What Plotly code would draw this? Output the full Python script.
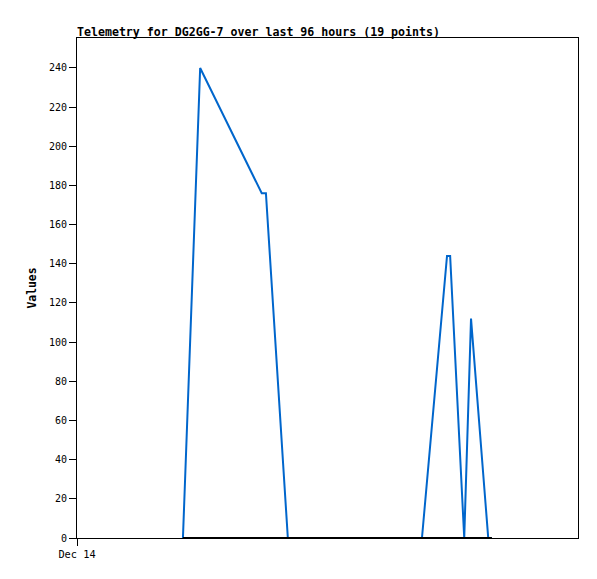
import plotly.graph_objects as go
from datetime import datetime, timedelta

# Data (hours after Dec 14 00:00, value)
hours = [20.3, 23.6, 35.4, 36.2, 40.4, 44.0, 48.5, 52.0, 56.0, 59.5, 62.5, 64.5,
         66.1, 70.9, 71.5, 74.2, 75.5, 78.8, 79.5]
values = [0, 240, 176, 176, 0, 0, 0, 0, 0, 0, 0, 0,
          0, 144, 144, 0, 112, 0, 0]
zero_series = [0] * len(hours)

start = datetime(2023, 12, 14, 0, 0)
end = start + timedelta(hours=96)
times = [start + timedelta(hours=h) for h in hours]

y_ticks = list(range(0, 241, 20))
x_tick_vals = [start]
x_tick_text = ["Dec 14"]

title_text = "Telemetry for DG2GG-7 over last 96 hours (19 points)"
y_title = "Values"

fig = go.Figure()
fig.add_trace(go.Scatter(x=times, y=values, mode="lines",
                         line=dict(color="#0066cc", width=2), showlegend=False))
fig.add_trace(go.Scatter(x=times, y=zero_series, mode="lines",
                         line=dict(color="#000000", width=2), showlegend=False))

W, H = 589, 571  # page body has an 8px margin
mono = "DejaVu Sans Mono"
fig.update_layout(
    width=W, height=H,
    margin=dict(l=69, r=19, t=30, b=41),
    paper_bgcolor="white", plot_bgcolor="white",
    title=dict(text="<b>" + title_text + "</b>", x=69/W, xanchor="left",
               xref="container", yref="container", y=1 - 24/H, yanchor="middle",
               font=dict(family=mono, size=11.6, color="black")),
    font=dict(family=mono, size=10, color="black"),
)
fig.update_xaxes(range=[start, end], tickvals=x_tick_vals, ticktext=x_tick_text,
                 showgrid=False, zeroline=False, showline=True, linecolor="black",
                 linewidth=1, mirror=True, ticks="outside", ticklen=7,
                 tickcolor="black", tickfont=dict(family=mono, size=10.3))
fig.update_yaxes(range=[0, 255.3], tickvals=y_ticks, showgrid=False, zeroline=False,
                 showline=True, linecolor="black", linewidth=1, mirror=True,
                 ticks="outside", ticklen=7, tickcolor="black",
                 tickfont=dict(family=mono, size=10),
                 title=dict(text="<b>" + y_title + "</b>", standoff=9,
                            font=dict(family=mono, size=11.4)))

fig.write_html("out.html")
